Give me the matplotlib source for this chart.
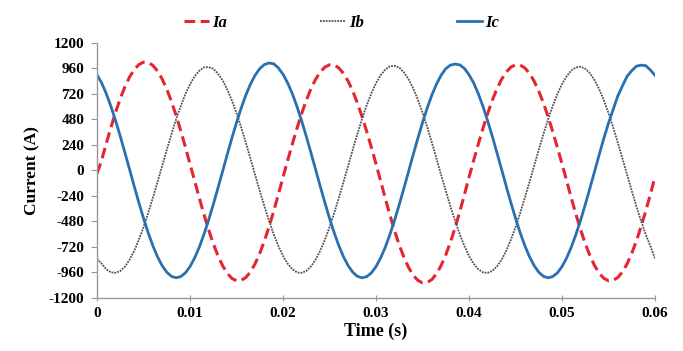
import numpy as np
import matplotlib
matplotlib.use('Agg')
import matplotlib.pyplot as plt

plt.rcParams['font.family'] = ['Liberation Serif', 'DejaVu Serif']
plt.rcParams['axes.unicode_minus'] = False

# 采样时间 (s)，每 0.5 ms 一个点
t = np.arange(121) * 0.0005

# 三相电流读数 (A)
ia = [-30, 96, 254, 405, 547, 675, 786, 878, 948, 995,
      1018, 1016, 988, 936, 861, 765, 650, 519, 375, 222,
      60, -98, -259, -413, -557, -688, -801, -895, -967, -1015,
      -1038, -1035, -1007, -955, -878, -780, -663, -529, -383, -227,
      -65, 94, 247, 395, 533, 658, 767, 856, 925, 971,
      993, 991, 964, 913, 840, 746, 634, 506, 366, 217,
      62, -100, -264, -421, -568, -701, -817, -912, -986, -1034,
      -1058, -1055, -1027, -973, -895, -795, -676, -540, -390, -231,
      -65, 94, 247, 395, 533, 658, 767, 856, 925, 971,
      993, 991, 964, 913, 840, 746, 634, 506, 366, 217,
      62, -98, -259, -413, -557, -688, -801, -895, -967, -1015,
      -1038, -1035, -1007, -955, -878, -780, -663, -529, -383, -227,
      -60]
ib = [-830, -877, -930, -959, -963, -946, -905, -841, -757, -653,
      -534, -402, -260, -111, 40, 193, 338, 479, 603, 718,
      808, 886, 937, 969, 972, 956, 912, 849, 762, 660,
      538, 406, 262, 112, -41, -191, -337, -474, -600, -710,
      -804, -877, -929, -959, -964, -946, -904, -841, -756, -653,
      -534, -402, -259, -111, 41, 195, 343, 484, 612, 725,
      820, 896, 949, 979, 984, 966, 923, 858, 772, 667,
      545, 410, 265, 113, -41, -191, -336, -474, -599, -710,
      -804, -877, -929, -959, -964, -946, -904, -841, -756, -653,
      -534, -402, -259, -111, 41, 193, 340, 479, 605, 718,
      812, 886, 939, 969, 975, 956, 914, 849, 764, 660,
      540, 406, 262, 112, -41, -191, -338, -474, -602, -710,
      -830]
ic = [900, 823, 722, 602, 468, 322, 168, 11, -148, -302,
      -449, -585, -707, -811, -895, -957, -996, -1010, -999, -964,
      -905, -823, -722, -602, -468, -322, -168, -11, 148, 302,
      449, 585, 707, 811, 895, 957, 996, 1010, 1003, 964,
      905, 823, 722, 602, 468, 322, 168, 11, -148, -302,
      -449, -585, -707, -811, -895, -957, -996, -1010, -999, -964,
      -905, -823, -722, -602, -468, -322, -168, -11, 148, 302,
      449, 585, 707, 811, 895, 957, 990, 1000, 993, 960,
      900, 823, 722, 602, 468, 322, 168, 11, -148, -302,
      -449, -585, -707, -811, -895, -957, -996, -1010, -999, -964,
      -905, -823, -722, -602, -468, -322, -168, -11, 148, 302,
      445, 573, 700, 795, 885, 938, 980, 990, 985, 945,
      895]

yticks = list(range(-1200, 1201, 240))
xticks = [0, 0.01, 0.02, 0.03, 0.04, 0.05, 0.06]
xtick_labels = ['0', '0.01', '0.02', '0.03', '0.04', '0.05', '0.06']

fig = plt.figure(figsize=(6.83, 3.51), dpi=100)
ax = fig.add_axes([0.142, 0.151, 0.817, 0.727])

ax.plot(t, ia, color='#e3262f', linestyle=(0, (3.5, 1.8)), linewidth=2.2, label='Ia')
ax.plot(t, ib, color='#505050', linestyle=(0, (1, 0.6)), linewidth=1.3, label='Ib')
ax.plot(t, ic, color='#2a6fb0', linestyle='-', linewidth=2.0, label='Ic')

ax.set_xlim(0, 0.06)
ax.set_ylim(-1200, 1200)
ax.set_yticks(yticks)
ax.set_xticks(xticks)
ax.set_xticklabels(xtick_labels)

for s in ['top', 'right']:
    ax.spines[s].set_visible(False)
for s in ['left', 'bottom']:
    ax.spines[s].set_color('#999999')
    ax.spines[s].set_linewidth(1.0)

ax.tick_params(axis='y', direction='out', length=4, color='#999999', pad=5)
ax.tick_params(axis='x', direction='inout', length=5, color='#999999', pad=4)
for lab in ax.get_xticklabels() + ax.get_yticklabels():
    lab.set_fontweight('bold')
    lab.set_fontsize(11)

ax.set_xlabel('Time (s)', fontsize=13, fontweight='bold', labelpad=2)
ax.set_ylabel('Current (A)', fontsize=12.5, fontweight='bold', labelpad=6)

fig.legend(loc='upper center', bbox_to_anchor=(0.5, 1.0), ncol=3, frameon=False,
           handlelength=1.5, handletextpad=0.2, columnspacing=5.6,
           prop={'weight': 'bold', 'style': 'italic', 'size': 12})

fig.savefig('out.png', dpi=100)
